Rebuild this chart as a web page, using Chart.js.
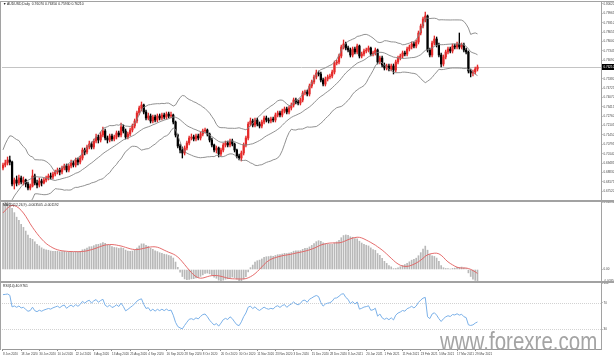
<!DOCTYPE html>
<html>
<head>
<meta charset="utf-8">
<script src="https://cdn.jsdelivr.net/npm/chart.js@4/dist/chart.umd.min.js"></script>
<style>
html,body{margin:0;padding:0;background:#fff;}
#wrap{position:relative;width:614px;height:357px;overflow:hidden;background:#fff;}
#wrap canvas{position:absolute;left:0;top:0;}
.hdr{position:absolute;left:3px;font-family:"Liberation Sans",Arial,sans-serif;font-size:3.4px;line-height:4px;color:#222;white-space:pre;}
.bd{position:absolute;background:#a2a2a2;}
#wm{position:absolute;left:440px;top:329px;font-family:"Liberation Sans",Arial,sans-serif;font-size:25px;line-height:25px;color:#a4a4a4;white-space:nowrap;transform:scaleX(0.82);transform-origin:0 0;}
</style>
</head>
<body>
<div id="wrap">
  <canvas id="cMain" width="614" height="357"></canvas>
  <canvas id="cMacd" width="614" height="357"></canvas>
  <canvas id="cRsi" width="614" height="357"></canvas>
  <div class="bd" style="left:0;top:1px;width:614px;height:1px"></div>
  <div class="bd" style="left:0;top:1px;width:1px;height:349px"></div>
  <div class="bd" style="left:601px;top:1px;width:1px;height:349px"></div>
  <div class="bd" style="left:0;top:200px;width:614px;height:2px"></div>
  <div class="bd" style="left:0;top:281px;width:614px;height:2px"></div>
  <div class="hdr" id="hMain" style="top:2px"></div>
  <div class="hdr" id="hMacd" style="top:203px"></div>
  <div class="hdr" id="hRsi" style="top:284px"></div>
  <div id="wm">www.forexre.com</div>
</div>
<script>
// ---------------- DATA ----------------
const symbolName = "AUDUSD,Daily";
const dateTickIndex = [0,8,16,24,32,40,48,56,64,72,80,88,96,104,112,120,128,136,144,152,160,168,176,184,192,200,208];
const dateTickLabels = ["8 Jun 2020","18 Jun 2020","30 Jun 2020","10 Jul 2020","22 Jul 2020","3 Aug 2020","13 Aug 2020","25 Aug 2020","4 Sep 2020","16 Sep 2020","28 Sep 2020","8 Oct 2020","20 Oct 2020","30 Oct 2020","11 Nov 2020","23 Nov 2020","3 Dec 2020","15 Dec 2020","28 Dec 2020","8 Jan 2021","20 Jan 2021","1 Feb 2021","11 Feb 2021","23 Feb 2021","5 Mar 2021","17 Mar 2021","29 Mar 2021"];
const mainTickValues = [0.80620,0.79965,0.79310,0.78655,0.78000,0.77345,0.76690,0.76035,0.75380,0.74725,0.74070,0.73415,0.72760,0.72105,0.71450,0.70795,0.70140,0.69485,0.68830,0.68175,0.67520];
const rsiTickValues = [100,70,30];
const rsiLevels = [70,30];

// closes before the first visible bar (indicator history only, not drawn)
const warmupClose = [
.5850,.5900,.5920,.5970,.5950,.5930,.5960,.5940,.5910,.5920,
.5950,.5970,.5960,.5940,.5970,.5990,.5960,.5950,.5970,.5990,
.5980,.6000,.6020,.6030,
.6050,.6080,.6070,.6100,.6120,.6110,.6140,.6170,.6160,.6190,
.6220,.6250,.6215,.6280,.6300,.6270,.6360,.6420,.6390,.6470,
.6540,.6500,.6620,.6700,.6650,.6790,.6860,.6830,.6880,.6915];

const openPrices = [
.6914,.6935,.6949,.6970,.6956,.6802,.6830,.6809,.6844,.6816,
.6830,.6802,.6774,.6788,.6858,.6809,.6795,.6823,.6809,.6830,
.6844,.6858,.6851,.6872,.6886,.6900,.6886,.6914,.6928,.6900,
.6928,.6949,.6935,.6970,.6956,.6984,.7040,.7026,.7061,.7082,
.7061,.7103,.7131,.7110,.7145,.7173,.7124,.7110,.7138,.7117,
.7131,.7159,.7145,.7201,.7173,.7131,.7152,.7180,.7208,.7243,
.7299,.7334,.7355,.7306,.7264,.7278,.7243,.7271,.7250,.7278,
.7264,.7285,.7271,.7292,.7278,.7285,.7236,.7145,.7068,.7040,
.7019,.7054,.7089,.7124,.7131,.7117,.7138,.7124,.7152,.7173,
.7180,.7152,.7110,.7075,.7040,.7054,.7012,.7040,.7075,.7089,
.7075,.7103,.7082,.7040,.6998,.6984,.7019,.7075,.7124,.7222,
.7243,.7215,.7250,.7222,.7208,.7236,.7264,.7250,.7243,.7257,
.7250,.7285,.7299,.7285,.7313,.7327,.7306,.7334,.7355,.7390,
.7376,.7369,.7390,.7439,.7446,.7432,.7488,.7516,.7551,.7579,
.7572,.7530,.7502,.7537,.7551,.7558,.7586,.7649,.7656,.7698,
.7761,.7782,.7754,.7740,.7705,.7747,.7726,.7768,.7698,.7712,
.7733,.7740,.7754,.7712,.7719,.7740,.7656,.7684,.7635,.7614,
.7628,.7607,.7628,.7600,.7656,.7684,.7698,.7719,.7712,.7747,
.7761,.7782,.7768,.7796,.7859,.7908,.7957,.7978,.7740,.7705,
.7789,.7817,.7775,.7705,.7642,.7691,.7726,.7747,.7733,.7768,
.7761,.7782,.7761,.7775,.7740,.7726,.7593,.7579,.7586,.7607];

const highPrices = [
.6949,.6970,.6991,.6998,.6963,.6844,.6858,.6865,.6858,.6851,
.6837,.6816,.6802,.6900,.6872,.6830,.6844,.6837,.6844,.6858,
.6872,.6879,.6886,.6900,.6914,.6914,.6928,.6942,.6942,.6942,
.6970,.6963,.6984,.6984,.6998,.7054,.7054,.7075,.7103,.7096,
.7117,.7152,.7145,.7166,.7201,.7187,.7138,.7152,.7152,.7145,
.7173,.7173,.7229,.7215,.7187,.7166,.7194,.7222,.7257,.7313,
.7348,.7376,.7362,.7320,.7299,.7292,.7285,.7285,.7292,.7292,
.7299,.7299,.7306,.7306,.7306,.7292,.7243,.7152,.7082,.7061,
.7068,.7103,.7138,.7152,.7145,.7152,.7152,.7166,.7187,.7194,
.7187,.7159,.7124,.7082,.7068,.7061,.7054,.7089,.7103,.7103,
.7117,.7117,.7089,.7047,.7012,.7033,.7089,.7138,.7236,.7264,
.7257,.7264,.7264,.7236,.7250,.7278,.7278,.7264,.7271,.7271,
.7299,.7313,.7313,.7327,.7341,.7341,.7348,.7369,.7404,.7404,
.7390,.7404,.7453,.7460,.7460,.7502,.7530,.7565,.7600,.7593,
.7586,.7544,.7551,.7565,.7572,.7600,.7663,.7670,.7712,.7775,
.7810,.7796,.7768,.7754,.7761,.7761,.7782,.7775,.7726,.7747,
.7754,.7768,.7761,.7733,.7754,.7747,.7698,.7698,.7649,.7642,
.7642,.7642,.7642,.7670,.7698,.7712,.7733,.7733,.7761,.7775,
.7796,.7796,.7810,.7873,.7922,.7971,.8006,.7985,.7754,.7803,
.7838,.7831,.7789,.7719,.7705,.7740,.7761,.7761,.7782,.7782,
.7796,.7859,.7789,.7789,.7754,.7733,.7607,.7600,.7621,.7635];

const lowPrices = [
.6900,.6921,.6935,.6935,.6788,.6767,.6788,.6795,.6802,.6795,
.6781,.6760,.6760,.6781,.6795,.6774,.6781,.6788,.6802,.6816,
.6830,.6837,.6837,.6858,.6872,.6865,.6872,.6900,.6886,.6886,
.6914,.6921,.6921,.6935,.6942,.6970,.7005,.7012,.7047,.7047,
.7047,.7089,.7089,.7096,.7131,.7110,.7089,.7096,.7103,.7103,
.7117,.7131,.7131,.7159,.7117,.7117,.7138,.7166,.7194,.7229,
.7285,.7313,.7292,.7250,.7250,.7229,.7229,.7236,.7236,.7250,
.7250,.7257,.7257,.7264,.7264,.7222,.7131,.7054,.7019,.6984,
.7005,.7040,.7075,.7110,.7103,.7103,.7110,.7110,.7138,.7159,
.7138,.7096,.7061,.7026,.7019,.6991,.6998,.7026,.7061,.7061,
.7061,.7068,.7026,.6984,.6970,.6963,.7005,.7061,.7110,.7208,
.7201,.7201,.7208,.7194,.7194,.7222,.7236,.7229,.7229,.7236,
.7236,.7271,.7271,.7271,.7299,.7292,.7292,.7320,.7341,.7362,
.7355,.7355,.7376,.7425,.7418,.7418,.7474,.7502,.7537,.7558,
.7516,.7488,.7488,.7523,.7537,.7544,.7572,.7635,.7642,.7684,
.7747,.7740,.7726,.7691,.7691,.7712,.7712,.7684,.7684,.7698,
.7719,.7726,.7698,.7698,.7705,.7642,.7642,.7621,.7600,.7600,
.7593,.7593,.7572,.7586,.7642,.7670,.7684,.7698,.7698,.7733,
.7747,.7754,.7754,.7782,.7845,.7894,.7936,.7726,.7691,.7691,
.7775,.7761,.7691,.7621,.7628,.7677,.7712,.7719,.7719,.7747,
.7747,.7747,.7747,.7726,.7712,.7579,.7551,.7558,.7572,.7593];

const closePrices = [
.6935,.6949,.6970,.6956,.6802,.6830,.6809,.6844,.6816,.6830,
.6802,.6774,.6788,.6858,.6809,.6795,.6823,.6809,.6830,.6844,
.6858,.6851,.6872,.6886,.6900,.6886,.6914,.6928,.6900,.6928,
.6949,.6935,.6970,.6956,.6984,.7040,.7026,.7061,.7082,.7061,
.7103,.7131,.7110,.7145,.7173,.7124,.7110,.7138,.7117,.7131,
.7159,.7145,.7201,.7173,.7131,.7152,.7180,.7208,.7243,.7299,
.7334,.7355,.7306,.7264,.7278,.7243,.7271,.7250,.7278,.7264,
.7285,.7271,.7292,.7278,.7285,.7236,.7145,.7068,.7040,.7019,
.7054,.7089,.7124,.7131,.7117,.7138,.7124,.7152,.7173,.7180,
.7152,.7110,.7075,.7040,.7054,.7012,.7040,.7075,.7089,.7075,
.7103,.7082,.7040,.6998,.6984,.7019,.7075,.7124,.7222,.7243,
.7215,.7250,.7222,.7208,.7236,.7264,.7250,.7243,.7257,.7250,
.7285,.7299,.7285,.7313,.7327,.7306,.7334,.7355,.7390,.7376,
.7369,.7390,.7439,.7446,.7432,.7488,.7516,.7551,.7579,.7572,
.7530,.7502,.7537,.7551,.7558,.7586,.7649,.7656,.7698,.7761,
.7782,.7754,.7740,.7705,.7747,.7726,.7768,.7698,.7712,.7733,
.7740,.7754,.7712,.7719,.7740,.7656,.7684,.7635,.7614,.7628,
.7607,.7628,.7600,.7656,.7684,.7698,.7719,.7712,.7747,.7761,
.7782,.7768,.7796,.7859,.7908,.7957,.7978,.7740,.7705,.7789,
.7817,.7775,.7705,.7642,.7691,.7726,.7747,.7733,.7768,.7761,
.7782,.7761,.7775,.7740,.7726,.7593,.7579,.7586,.7607,.7621];

// ---------------- INDICATORS (from the closes) ----------------
const all = warmupClose.concat(closePrices);
const W = warmupClose.length;
const N = closePrices.length;
function emaSeries(a,n){const k=2/(n+1);const o=new Array(a.length);o[0]=a[0];for(let i=1;i<a.length;i++)o[i]=a[i]*k+o[i-1]*(1-k);return o;}
const e12=emaSeries(all,12), e26=emaSeries(all,26);
const macdAll=all.map((v,i)=>e12[i]-e26[i]);
const sigAll=macdAll.map((v,i)=>{if(i<8)return null;let s=0;for(let j=i-8;j<=i;j++)s+=macdAll[j];return s/9;});
const bbUp=[],bbMid=[],bbLo=[];
for(let i=0;i<N;i++){const k=i+W;let s=0;for(let j=k-19;j<=k;j++)s+=all[j];const m=s/20;let v=0;for(let j=k-19;j<=k;j++)v+=(all[j]-m)*(all[j]-m);const sd=Math.sqrt(v/20);
  bbMid.push({x:i,y:m});bbUp.push({x:i,y:m+2*sd});bbLo.push({x:i,y:m-2*sd});}
const rsiAll=new Array(all.length).fill(null);
(function(){let ag=0,al=0;for(let i=1;i<=14;i++){const d=all[i]-all[i-1];if(d>0)ag+=d;else al-=d;}ag/=14;al/=14;
 rsiAll[14]=al===0?100:100-100/(1+ag/al);
 for(let i=15;i<all.length;i++){const d=all[i]-all[i-1];ag=(ag*13+(d>0?d:0))/14;al=(al*13+(d<0?-d:0))/14;rsiAll[i]=al===0?100:100-100/(1+ag/al);}})();
const hist=[],sig=[],rsi=[];
for(let i=0;i<N;i++){hist.push({x:i,y:macdAll[i+W]});sig.push({x:i,y:sigAll[i+W]});rsi.push({x:i,y:rsiAll[i+W]});}
let mMax=-1e9,mMin=1e9;for(let i=0;i<N;i++){mMax=Math.max(mMax,hist[i].y,sig[i].y);mMin=Math.min(mMin,hist[i].y,sig[i].y);}

// ---------------- DRAW ----------------
Chart.defaults.font.family='"Liberation Sans", Arial, sans-serif';
const X_MIN=-0.44, X_MAX=263.4;
const RED='#e52a2a', BLACK='#000000', BB='#858585';
const lastClose=closePrices[N-1];
const xHidden={type:'linear',min:X_MIN,max:X_MAX,display:false,offset:false,grid:{offset:false}};
function yAxis(extra){return Object.assign({position:'right',afterFit(s){s.width=13;},
  grid:{drawOnChartArea:false,tickLength:1.5,color:'#888'},border:{display:false}},extra);}
const tickFont={size:3};
const baseOpts={animation:false,responsive:false,devicePixelRatio:1,events:[],
  plugins:{legend:{display:false},tooltip:{enabled:false}}};
const candleColor=ctx=>closePrices[ctx.dataIndex]>=openPrices[ctx.dataIndex]?RED:BLACK;

const pricePlugin={id:'priceLine',
  beforeDatasetsDraw(chart){const {ctx,chartArea:a,scales:{y}}=chart;const py=Math.round(y.getPixelForValue(lastClose))+0.5;
    ctx.save();ctx.strokeStyle='#c4c4c4';ctx.lineWidth=1;ctx.beginPath();ctx.moveTo(a.left,py);ctx.lineTo(a.right,py);ctx.stroke();ctx.restore();},
  afterDraw(chart){const {ctx,chartArea:a,scales:{y}}=chart;const py=Math.round(y.getPixelForValue(lastClose));
    ctx.save();ctx.fillStyle='#000';ctx.fillRect(a.right+1,py-3,13,6);ctx.fillStyle='#fff';ctx.font='3px "Liberation Sans", Arial';ctx.textBaseline='middle';ctx.textAlign='left';ctx.fillText(lastClose.toFixed(5),a.right+2.5,py+0.3);ctx.restore();}};

new Chart(document.getElementById('cMain'),{type:'bar',
  data:{datasets:[
    {type:'line',data:bbUp,borderColor:BB,borderWidth:0.9,pointRadius:0,tension:0},
    {type:'line',data:bbMid,borderColor:BB,borderWidth:0.9,pointRadius:0,tension:0},
    {type:'line',data:bbLo,borderColor:BB,borderWidth:0.9,pointRadius:0,tension:0},
    {type:'bar',data:closePrices.map((c,i)=>({x:i,y:[openPrices[i],c]})),backgroundColor:candleColor,barThickness:1.6,grouped:false,borderWidth:0},
    {type:'bar',data:closePrices.map((c,i)=>({x:i,y:[lowPrices[i],highPrices[i]]})),backgroundColor:candleColor,barThickness:0.7,grouped:false,borderWidth:0}
  ]},
  options:Object.assign({},baseOpts,{layout:{padding:{left:2,top:3,right:0,bottom:157}},
    scales:{x:xHidden,y:yAxis({min:0.6690,max:0.8069,
      afterBuildTicks(s){s.ticks=mainTickValues.map(v=>({value:v}));},
      ticks:{autoSkip:false,font:tickFont,color:'#444',padding:1,callback:v=>Number(v).toFixed(5)}})}}),
  plugins:[pricePlugin]});

const macdTickLabels=[mMax.toFixed(6),'0.00',mMin.toFixed(6)];
new Chart(document.getElementById('cMacd'),{type:'bar',
  data:{datasets:[
    {type:'line',data:sig,borderColor:'#e25c5c',borderWidth:0.9,pointRadius:0,tension:0},
    {type:'bar',data:hist,backgroundColor:'#b8b8b8',barThickness:1,grouped:false,borderWidth:0}
  ]},
  options:Object.assign({},baseOpts,{layout:{padding:{left:2,top:202,right:0,bottom:76}},
    scales:{x:xHidden,y:yAxis({min:mMin,max:mMax,
      afterBuildTicks(s){s.ticks=[mMax,0,mMin].map(v=>({value:v}));},
      ticks:{autoSkip:false,font:tickFont,color:'#444',padding:1,callback:(v,i)=>macdTickLabels[i]}})}})});

const levelPlugin={id:'levels',beforeDatasetsDraw(chart){const {ctx,chartArea:a,scales:{y}}=chart;ctx.save();ctx.strokeStyle='#d2d2d2';ctx.lineWidth=1;ctx.setLineDash([1,1]);
  rsiLevels.forEach(l=>{const py=Math.round(y.getPixelForValue(l))+0.5;ctx.beginPath();ctx.moveTo(a.left,py);ctx.lineTo(a.right,py);ctx.stroke();});ctx.restore();}};
new Chart(document.getElementById('cRsi'),{type:'line',
  data:{datasets:[{data:rsi,borderColor:'#7ab0e8',borderWidth:1,pointRadius:0,tension:0}]},
  options:Object.assign({},baseOpts,{layout:{padding:{left:2,top:283,right:0,bottom:0}},
    scales:{
      x:{type:'linear',min:X_MIN,max:X_MAX,position:'bottom',offset:false,afterFit(s){s.height=8;},
        afterBuildTicks(s){s.ticks=dateTickIndex.map(v=>({value:v}));},
        ticks:{autoSkip:false,maxRotation:0,minRotation:0,align:'start',padding:1,font:tickFont,color:'#444',callback:(v,i)=>dateTickLabels[i]},
        grid:{drawOnChartArea:false,offset:false,tickLength:2,color:'#888'},border:{display:true,color:'#999'}},
      y:yAxis({min:0,max:100,afterBuildTicks(s){s.ticks=rsiTickValues.map(v=>({value:v}));},
        ticks:{autoSkip:false,font:tickFont,color:'#444',padding:1,callback:v=>String(v)}})}}),
  plugins:[levelPlugin]});

// headers (real text)
document.getElementById('hMain').textContent='\u25BC '+symbolName+'  '+[openPrices[N-1],highPrices[N-1],lowPrices[N-1],closePrices[N-1]].map(v=>v.toFixed(5)).join(' ');
document.getElementById('hMacd').textContent='MACD(12,26,9) '+hist[N-1].y.toFixed(6)+' '+sig[N-1].y.toFixed(6);
document.getElementById('hRsi').textContent='RSI(14) '+rsi[N-1].y.toFixed(4);
</script>
</body>
</html>
